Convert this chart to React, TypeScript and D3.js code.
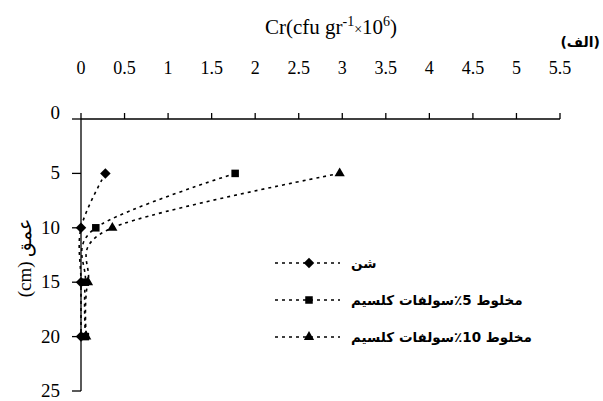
import React from 'react'
import * as d3 from 'd3'

const depths = [5, 10, 15, 20]
const sandValues = [0.28, 0, 0, 0]
const mix5Values = [1.77, 0.17, 0.05, 0.05]
const mix10Values = [2.97, 0.36, 0.08, 0.06]
const seriesNames = ['شن', 'مخلوط 5٪سولفات کلسیم', 'مخلوط 10٪سولفات کلسیم']
const xTicks = [0, 0.5, 1, 1.5, 2, 2.5, 3, 3.5, 4, 4.5, 5, 5.5]
const yTicks = [0, 5, 10, 15, 20, 25]

const W = 603
const H = 401
const left = 81
const top = 119
const xScale = d3.scaleLinear().domain([0, 5.5]).range([left, 560])
const yScale = d3.scaleLinear().domain([0, 25]).range([top, 391])

const serif = { fontFamily: "'Liberation Serif', 'DejaVu Serif', serif" }
const arabic = { fontFamily: "'DejaVu Sans', sans-serif", fontWeight: 'bold' as const }

const series = [
  { name: seriesNames[0], values: sandValues, marker: 'diamond' },
  { name: seriesNames[1], values: mix5Values, marker: 'square' },
  { name: seriesNames[2], values: mix10Values, marker: 'triangle' }
]

const symbols: Record<string, d3.SymbolType> = {
  diamond: d3.symbolDiamond2,
  square: d3.symbolSquare2,
  triangle: d3.symbolTriangle2
}
const symbolSizes: Record<string, number> = { diamond: 70, square: 72, triangle: 75 }

function Marker({ kind, x, y }: { kind: string; x: number; y: number }) {
  const p = d3.symbol().type(symbols[kind]).size(symbolSizes[kind])()
  return <path d={p || ''} transform={`translate(${x},${y})`} fill="#000" />
}

export default function App() {
  // Excel-like smoothing: uniform Catmull-Rom
  const line = d3
    .line<[number, number]>()
    .x(d => xScale(d[0]))
    .y(d => yScale(d[1]))
    .curve(d3.curveCardinal.tension(0))

  return (
    <svg width={W} height={H} style={{ position: 'absolute', left: 0, top: 0, background: '#fff' }}>
      <rect width={W} height={H} fill="#fff" />
      {/* title */}
      <text x={331} y={34} textAnchor="middle" style={serif} fontSize={21} fill="#000">
        Cr(cfu gr
        <tspan dy={-8} fontSize={14}>-1</tspan>
        <tspan dy={8} fontSize={14}>×</tspan>
        <tspan>10</tspan>
        <tspan dy={-8} fontSize={14}>6</tspan>
        <tspan dy={8}>)</tspan>
      </text>
      <text x={600} y={47} textAnchor="end" style={arabic} fontSize={14} fill="#000">
        (الف)
      </text>

      {/* x axis on top */}
      <line x1={left} x2={xScale(5.5)} y1={top} y2={top} stroke="#000" strokeWidth={1.3} />
      {xTicks.map(t => (
        <g key={t}>
          <line x1={xScale(t)} x2={xScale(t)} y1={top} y2={top - 6} stroke="#000" strokeWidth={1.3} />
          <text x={xScale(t)} y={74} textAnchor="middle" style={serif} fontSize={18} fill="#000">
            {t}
          </text>
        </g>
      ))}

      {/* y axis */}
      <line x1={left} x2={left} y1={top} y2={yScale(25)} stroke="#000" strokeWidth={1.3} />
      {yTicks.map(t => (
        <g key={t}>
          <line x1={left - 9} x2={left} y1={yScale(t)} y2={yScale(t)} stroke="#000" strokeWidth={1.3} />
          <text x={60} y={yScale(t) + (t === 0 ? 0 : 6)} textAnchor="end" style={serif} fontSize={19} fill="#000">
            {t}
          </text>
        </g>
      ))}
      <text transform="translate(31,258) rotate(-90)" textAnchor="middle" style={serif} fontSize={19} fill="#000">
        (cm) عمق
      </text>

      {/* series */}
      {series.map(s => (
        <g key={s.name}>
          <path
            d={line(depths.map((d, i) => [s.values[i], d] as [number, number])) || ''}
            fill="none"
            stroke="#000"
            strokeWidth={1.6}
            strokeDasharray="3,4"
          />
          {depths.map((d, i) => (
            <Marker key={d} kind={s.marker} x={xScale(s.values[i])} y={yScale(d)} />
          ))}
        </g>
      ))}

      {/* legend */}
      {series.map((s, i) => {
        const ly = 263 + i * 37
        return (
          <g key={s.name}>
            <line x1={275} x2={340} y1={ly} y2={ly} stroke="#000" strokeWidth={1.6} strokeDasharray="3,4" />
            <Marker kind={s.marker} x={309} y={ly} />
            <text x={351} y={ly + 5} direction="rtl" textAnchor="end" style={arabic} fontSize={13.5} fill="#000">
              {s.name}
            </text>
          </g>
        )
      })}
    </svg>
  )
}
